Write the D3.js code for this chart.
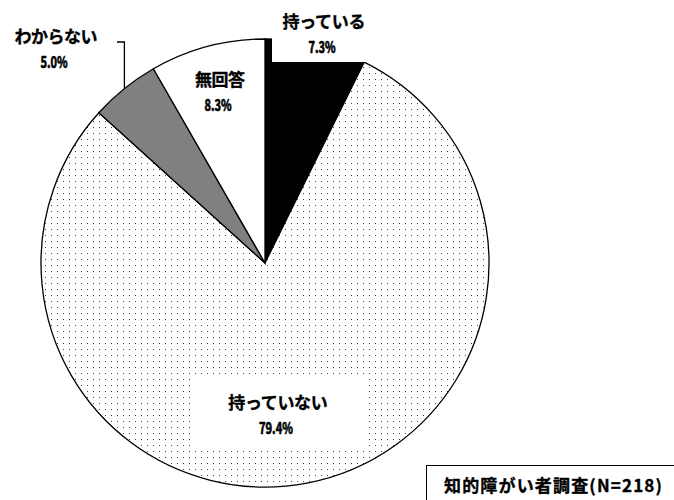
<!DOCTYPE html>
<html>
<head>
<meta charset="utf-8">
<title>知的障がい者調査</title>
<style>
body { margin: 0; background: #fff; }
svg text {
	font-family: "Noto Sans CJK JP", "Noto Sans", sans-serif;
	font-weight: 700;
	fill: #000;
	stroke: #000;
	stroke-width: 0.35;
}
svg text.pct {
	stroke-width: 0.7;
}
</style>
<script src="https://cdn.jsdelivr.net/npm/d3@7"></script>
</head>
<body>
<div id="chart"></div>
<script>
	// data
	var labels = ["持っている", "持っていない", "わからない", "無回答"];
	var values = [7.3, 79.4, 5.0, 8.3];
	var title = "知的障がい者調査(N=218)";

	// look of each slice
	var fills = ["#000", "url(#dots)", "#808080", "#fff"];

	// where each label sits (center x, first line y, white box behind or not)
	var labelPos = [
		{x: 324, y: 20, box: [272, 0, 104, 62]},
		{x: 278, y: 401, box: [194, 378, 171, 69]},
		{x: 56, y: 35, box: null},
		{x: 220, y: 78, box: null}
	];

	var width = 674, height = 500;
	var cx = 265, cy = 263, r = 224;

	var svg = d3.select("#chart").append("svg")
		.attr("width", width)
		.attr("height", height);

	var pat = svg.append("defs").append("pattern")
		.attr("id", "dots")
		.attr("patternUnits", "userSpaceOnUse")
		.attr("width", 6)
		.attr("height", 6);
	pat.append("rect").attr("width", 6).attr("height", 6).attr("fill", "#fff");
	pat.append("rect").attr("x", 2).attr("y", 2).attr("width", 1).attr("height", 1).attr("fill", "#444");

	var pie = d3.pie().sort(null).value(function (d) { return d; });
	var arcs = pie(values);
	var arc = d3.arc().innerRadius(0).outerRadius(r);
	var edge = d3.arc().innerRadius(r).outerRadius(r);

	var g = svg.append("g").attr("transform", "translate(" + cx + "," + cy + ")");

	g.selectAll("path.slice")
		.data(arcs)
		.enter().append("path")
			.attr("class", "slice")
			.attr("d", arc)
			.attr("fill", function (d, i) { return fills[i]; })
			.attr("stroke", "#000")
			.attr("stroke-width", 1.3);

	// leader for わからない
	var p = edge.centroid(arcs[2]);
	svg.append("polyline")
		.attr("points", [[117, 42], [cx + p[0], 42], [cx + p[0], cy + p[1]]].join(" "))
		.attr("fill", "none")
		.attr("stroke", "#000")
		.attr("stroke-width", 1.3);

	// labels
	labelPos.forEach(function (lp, i) {
		if (lp.box) {
			svg.append("rect")
				.attr("x", lp.box[0]).attr("y", lp.box[1])
				.attr("width", lp.box[2]).attr("height", lp.box[3])
				.attr("fill", "#fff");
		}
		var name = labels[i];
		svg.append("text")
			.attr("x", lp.x).attr("y", lp.y)
			.attr("text-anchor", "middle")
			.attr("dominant-baseline", "central")
			.attr("font-size", 17)
			.attr("textLength", name.length * 16.6)
			.attr("lengthAdjust", "spacing")
			.text(name);
		var pct = values[i].toFixed(1) + "%";
		svg.append("text")
			.attr("class", "pct")
			.attr("x", lp.x - 2).attr("y", lp.y + 26)
			.attr("text-anchor", "middle")
			.attr("dominant-baseline", "central")
			.attr("font-size", 16)
			.attr("textLength", pct.length * 6.8)
			.attr("lengthAdjust", "spacingAndGlyphs")
			.text(pct);
	});

	// survey box
	svg.append("rect")
		.attr("x", 426.5).attr("y", 465.5)
		.attr("width", 260).attr("height", 50)
		.attr("fill", "#fff")
		.attr("stroke", "#000")
		.attr("stroke-width", 1);
	svg.append("text")
		.attr("x", 553).attr("y", 484)
		.attr("text-anchor", "middle")
		.attr("dominant-baseline", "central")
		.attr("font-size", 17)
		.attr("textLength", 218)
		.attr("lengthAdjust", "spacing")
		.text(title);
</script>
</body>
</html>
